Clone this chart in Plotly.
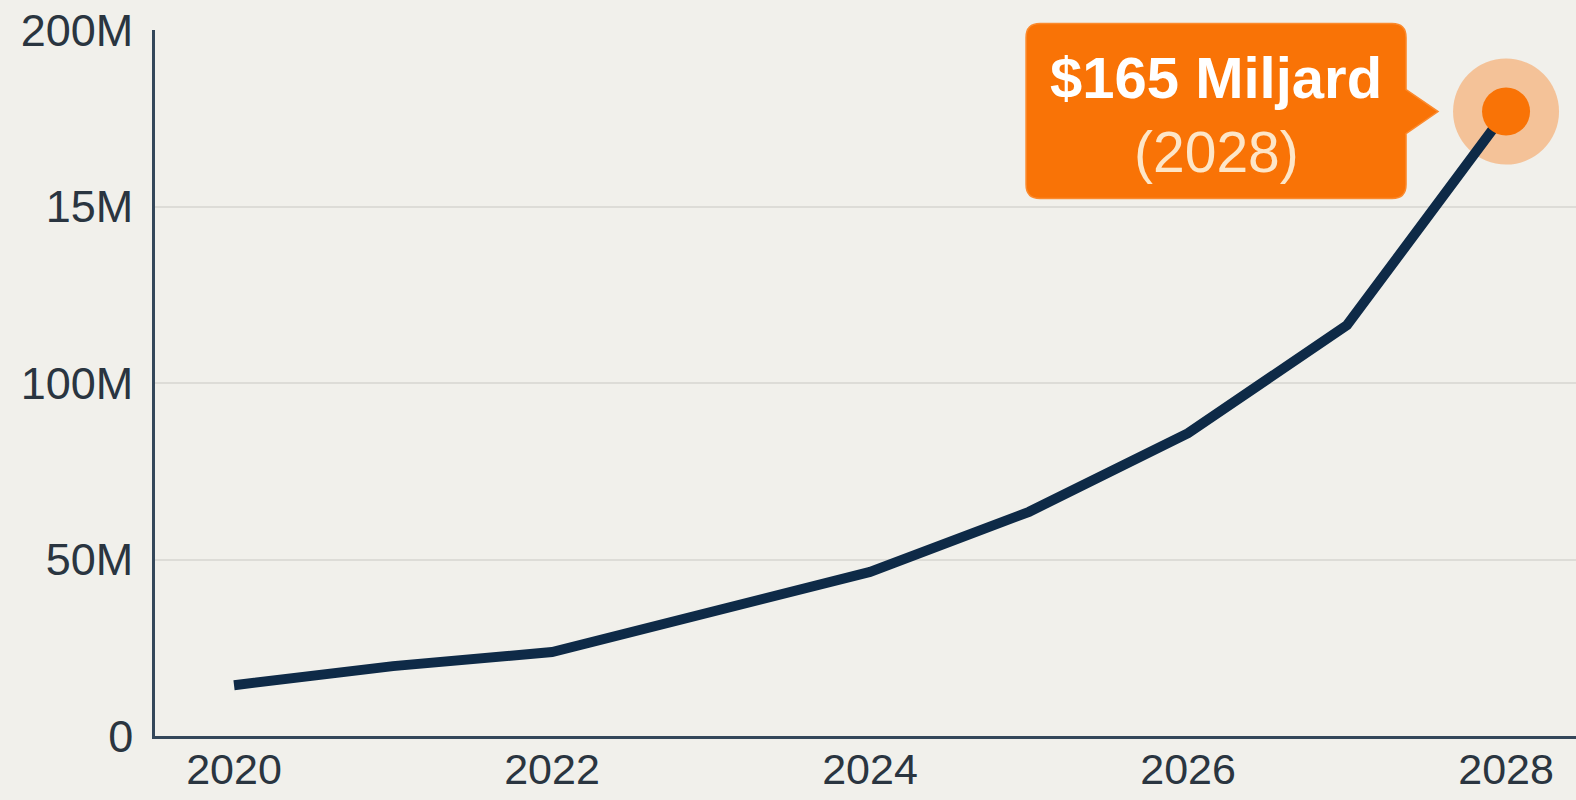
import plotly.graph_objects as go

years = [2020, 2021, 2022, 2023, 2024, 2025, 2026, 2027, 2028]
values = [14.4e6, 19.8e6, 23.8e6, 34.8e6, 46.5e6, 63.5e6, 85.8e6, 116.4e6, 176.9e6]

x_tickvals = [2020, 2022, 2024, 2026, 2028]
x_ticktext = ["2020", "2022", "2024", "2026", "2028"]
y_tickvals = [0, 50e6, 100e6, 150e6, 200e6]
y_ticktext = ["0", "50M", "100M", "15M", "200M"]

callout_line1 = "$165 Miljard"
callout_line2 = "(2028)"

NAVY = "#0e2a47"
ORANGE = "#f97306"
BG = "#f1f0eb"
TEXT = "#2a3540"
FONT = "Liberation Sans"

X_RANGE = [2019.503, 2028.44]
Y_RANGE = [0, 200e6]

fig = go.Figure()

# halo behind the last point
fig.add_trace(go.Scatter(
    x=[years[-1]], y=[values[-1]], mode="markers",
    marker=dict(size=106, color="rgba(249,115,6,0.36)", line=dict(width=0)),
    hoverinfo="skip", showlegend=False, cliponaxis=False))

fig.add_trace(go.Scatter(
    x=years, y=values, mode="lines",
    line=dict(color=NAVY, width=10),
    showlegend=False, cliponaxis=False))

fig.add_trace(go.Scatter(
    x=[years[-1]], y=[values[-1]], mode="markers",
    marker=dict(size=48, color=ORANGE, line=dict(width=0)),
    hoverinfo="skip", showlegend=False, cliponaxis=False))

# callout box (pixel offsets relative to the last point, anchored in domain units so it is not clipped)
ax_frac = (years[-1] - X_RANGE[0]) / (X_RANGE[1] - X_RANGE[0])
ay_frac = (values[-1] - Y_RANGE[0]) / (Y_RANGE[1] - Y_RANGE[0])
L, R, T, B, r = -480, -100, 88, -87, 14
tip_x, half = -68, 22
path = (f"M {L+r},{T} L {R-r},{T} Q {R},{T} {R},{T-r} "
        f"L {R},{half} L {tip_x},0 L {R},{-half} "
        f"L {R},{B+r} Q {R},{B} {R-r},{B} "
        f"L {L+r},{B} Q {L},{B} {L},{B+r} "
        f"L {L},{T-r} Q {L},{T} {L+r},{T} Z")
fig.add_shape(type="path", path=path, xref="x domain", yref="y domain",
              xsizemode="pixel", ysizemode="pixel",
              xanchor=ax_frac, yanchor=ay_frac,
              fillcolor=ORANGE, line=dict(color="#fb8a2e", width=1.5), layer="above")

fig.add_annotation(x=years[-1], y=values[-1], xref="x", yref="y",
                   text=f"<b>{callout_line1}</b>", showarrow=False,
                   xshift=-290, yshift=34,
                   font=dict(family=FONT, size=58, color="#ffffff"))
fig.add_annotation(x=years[-1], y=values[-1], xref="x", yref="y",
                   text=callout_line2, showarrow=False,
                   xshift=-290, yshift=-40,
                   font=dict(family=FONT, size=57, color="#fde6c8"))

fig.update_layout(
    width=1576, height=800,
    margin=dict(l=155, r=0, t=30, b=64, autoexpand=False),
    paper_bgcolor=BG, plot_bgcolor=BG,
    font=dict(family=FONT, size=44, color=TEXT),
    xaxis=dict(range=X_RANGE, tickvals=x_tickvals, ticktext=x_ticktext,
               showgrid=False, zeroline=False, showline=True, linecolor="#34475a",
               linewidth=2.5, ticks="", ticklabelstandoff=-6, automargin=False,
               tickfont=dict(family=FONT, size=43, color=TEXT)),
    yaxis=dict(range=Y_RANGE, tickvals=y_tickvals, ticktext=y_ticktext,
               showgrid=True, gridcolor="#dddcd7", gridwidth=2, zeroline=False,
               showline=True, linecolor="#34475a", linewidth=2.5, ticks="",
               ticklabelstandoff=10, automargin=False,
               tickfont=dict(family=FONT, size=45, color=TEXT)),
    showlegend=False,
)

fig.write_html("out.html")
